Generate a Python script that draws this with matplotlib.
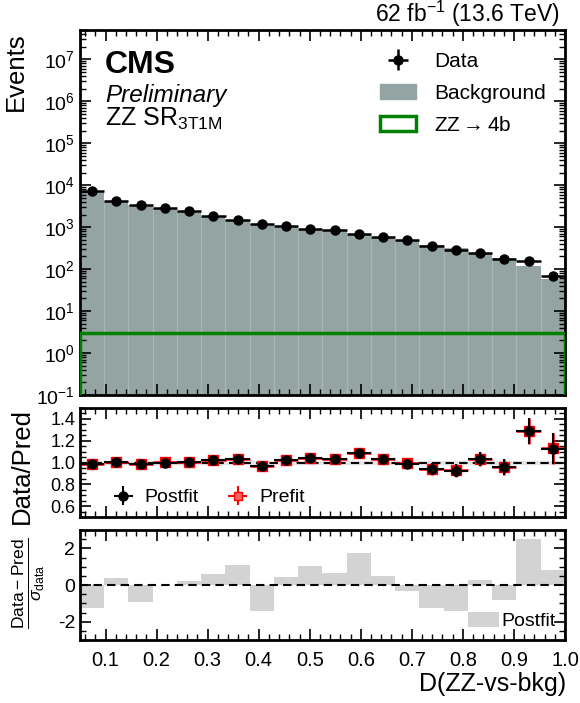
import numpy as np
import matplotlib
matplotlib.use("Agg")
import matplotlib.pyplot as plt
from matplotlib.ticker import MultipleLocator, LogLocator, NullFormatter, FixedLocator, LogFormatterSciNotation
from matplotlib.patches import Patch

plt.rcParams['font.family'] = ['Liberation Sans', 'DejaVu Sans']
plt.rcParams['mathtext.fontset'] = 'custom'
plt.rcParams['mathtext.rm'] = 'Liberation Sans'
plt.rcParams['mathtext.it'] = 'Liberation Sans:italic'
plt.rcParams['mathtext.bf'] = 'Liberation Sans:bold'
plt.rcParams['axes.unicode_minus'] = False

# ---- data ----
bin_edges = [0.05, 0.0975, 0.145, 0.1925, 0.24, 0.2875, 0.335, 0.3825, 0.43, 0.4775,
             0.525, 0.5725, 0.62, 0.6675, 0.715, 0.7625, 0.81, 0.8575, 0.905, 0.9525, 1.0]
data_counts = [7200, 4160, 3410, 2900, 2400, 1800, 1500, 1160, 1056, 880,
               834, 695, 578, 482, 347, 290, 246, 177, 155, 67]
ratio_postfit = [0.988, 1.006, 0.988, 1.000, 1.003, 1.020, 1.034, 0.970, 1.020, 1.040,
                 1.034, 1.084, 1.028, 0.990, 0.940, 0.925, 1.030, 0.957, 1.290, 1.127]
ratio_prefit = [0.990, 1.008, 0.990, 1.002, 1.005, 1.022, 1.036, 0.972, 1.022, 1.042,
                1.036, 1.086, 1.030, 0.992, 0.942, 0.927, 1.032, 0.959, 1.292, 1.129]
ratio_err = [0.012, 0.016, 0.017, 0.019, 0.020, 0.024, 0.026, 0.029, 0.031, 0.034,
             0.035, 0.038, 0.042, 0.046, 0.054, 0.059, 0.064, 0.075, 0.12, 0.14]
pulls = [-1.28, 0.37, -0.93, 0.02, 0.20, 0.61, 1.07, -1.43, 0.43, 1.02,
         0.65, 1.76, 0.48, -0.35, -1.24, -1.43, 0.28, -0.81, 2.52, 0.83]
signal = [3.0] * 20
log_ticks = [1e-1, 1e0, 1e1, 1e2, 1e3, 1e4, 1e5, 1e6, 1e7]

edges = np.array(bin_edges)
centers = 0.5 * (edges[1:] + edges[:-1])
halfw = 0.5 * (edges[1:] - edges[:-1])
data = np.array(data_counts, float)
rpost = np.array(ratio_postfit)
rpre = np.array(ratio_prefit)
bkg = data / rpost

W, H = 580, 703
fig = plt.figure(figsize=(W / 100, H / 100), dpi=100)

def fax(l, t, r, b):
    return fig.add_axes([l / W, 1 - b / H, (r - l) / W, (b - t) / H])

ax1 = fax(80, 30, 565, 395)
ax2 = fax(80, 408, 565, 517)
ax3 = fax(80, 530, 565, 640)

bkg_color = '#94a4a2'
FS = 14

# ---- main panel ----
ax1.stairs(bkg, edges, fill=True, color=bkg_color, baseline=1e-5, zorder=1)
ax1.vlines(edges[1:-1], 1e-5, np.minimum(bkg[:-1], bkg[1:]), color='#aab6b4',
           lw=0.9, zorder=1.5)
ax1.stairs(signal, edges, color='green', lw=2.5, baseline=1e-5, zorder=3)
ax1.errorbar(centers, data, xerr=halfw, yerr=np.sqrt(data), fmt='o', color='black',
             ms=6.5, lw=1.8, capsize=0, zorder=4)
ax1.set_yscale('log')
ax1.set_ylim(0.1, 5e7)
ax1.set_xlim(0.05, 1.0)
ax1.yaxis.set_major_locator(FixedLocator(log_ticks))
ax1.yaxis.set_major_formatter(LogFormatterSciNotation())
ax1.yaxis.set_minor_locator(LogLocator(base=10, subs=np.arange(2, 10), numticks=20))
ax1.yaxis.set_minor_formatter(NullFormatter())
ax1.tick_params(labelbottom=False)

h_data = ax1.errorbar([], [], xerr=[], yerr=[], fmt='o', color='black', ms=6.5, lw=1.8)
h_bkg = Patch(facecolor=bkg_color, edgecolor=bkg_color)
h_sig = Patch(facecolor='white', edgecolor='green', lw=2.5)
ax1.legend([h_data, h_bkg, h_sig], ['Data', 'Background', r'ZZ$\rightarrow$4b'],
           loc='upper left', bbox_to_anchor=(0.618, 0.94), frameon=False,
           fontsize=15, handlelength=1.75, handletextpad=0.85, labelspacing=0.62,
           borderpad=0, borderaxespad=0)

ax1.text(0.052, 0.945, 'CMS', transform=ax1.transAxes, fontsize=23, fontweight='bold',
         va='top', ha='left')
ax1.text(0.052, 0.82, 'Preliminary', transform=ax1.transAxes, fontsize=17.5,
         style='italic', va='center', ha='left')
ax1.text(0.052, 0.756, r'ZZ SR$_{\mathrm{3T1M}}$', transform=ax1.transAxes, fontsize=18,
         va='center', ha='left')
fig.text(560 / W, 1 - 22 / H, r'62 fb$^{-1}$ (13.6 TeV)', fontsize=16.5,
         ha='right', va='baseline')

# ---- ratio panel ----
ax2.axhspan(0.99, 1.01, color='#e6e6e6', zorder=0)
ax2.axhline(1.0, color='black', ls='--', lw=1.5, dashes=(4, 2.5), zorder=1)
ax2.errorbar(centers, rpre, xerr=halfw, yerr=ratio_err, fmt='s', color='red',
             mfc='red', ms=7, lw=1.8, capsize=0, zorder=2)
ax2.errorbar(centers, rpost, xerr=halfw, yerr=ratio_err, fmt='o', color='black',
             ms=6.5, lw=1.5, capsize=0, zorder=3)
ax2.set_xlim(0.05, 1.0)
ax2.set_ylim(0.5, 1.5)
ax2.yaxis.set_major_locator(FixedLocator([0.6, 0.8, 1.0, 1.2, 1.4]))
ax2.yaxis.set_minor_locator(MultipleLocator(0.05))
ax2.yaxis.set_major_formatter(matplotlib.ticker.FormatStrFormatter('%.1f'))
ax2.tick_params(labelbottom=False)
hp = ax2.errorbar([], [], xerr=[], yerr=[], fmt='o', color='black', ms=6.5, lw=1.5)
hq = ax2.errorbar([], [], xerr=[], yerr=[], fmt='s', color='red', ms=5.5, lw=1.5,
                  mfc='#ff6060')
ax2.legend([hp, hq], ['Postfit', 'Prefit'], loc='lower left', ncol=2, frameon=False,
           fontsize=FS, handlelength=1.6, handletextpad=0.3, columnspacing=1.2,
           borderaxespad=0.15, bbox_to_anchor=(0.035, 0.0))

# ---- pull panel ----
ax3.stairs(pulls, edges, fill=True, color='#d3d3d3', baseline=0, zorder=1)
ax3.axhline(0.0, color='black', ls='--', lw=1.5, dashes=(4, 2.5), zorder=2)
ax3.set_xlim(0.05, 1.0)
ax3.set_ylim(-3, 3)
ax3.yaxis.set_major_locator(FixedLocator([-2, 0, 2]))
ax3.yaxis.set_minor_locator(MultipleLocator(0.5))
ax3.legend([Patch(facecolor='#d3d3d3')], ['Postfit'], loc='lower right', frameon=False,
           fontsize=FS, handlelength=1.6, handleheight=0.8, handletextpad=0.1,
           borderaxespad=0.5, borderpad=0.0)

for ax in (ax1, ax2, ax3):
    ax.xaxis.set_major_locator(MultipleLocator(0.1))
    ax.xaxis.set_minor_locator(MultipleLocator(0.02))
    ax.tick_params(which='both', direction='in', top=True, right=True, labelsize=FS)
    ax.tick_params(which='major', length=8, width=1.2)
    ax.tick_params(which='minor', length=4, width=1.0)
    for s in ax.spines.values():
        s.set_linewidth(2)
ax2.tick_params(axis='y', labelsize=13)
ax3.xaxis.set_major_formatter(matplotlib.ticker.FormatStrFormatter('%.1f'))
ax3.tick_params(axis='x', pad=8, labelsize=14.5)

fig.text(16 / W, 1 - 32 / H, 'Events', rotation=90, ha='center', va='top', fontsize=18.5)
fig.text(22 / W, 1 - 466 / H, 'Data/Pred', rotation=90, ha='center', va='center',
         fontsize=18.5)
fig.text(28 / W, 1 - 583 / H, r'$\frac{\mathrm{Data-Pred}}{\sigma_{\mathrm{data}}}$',
         rotation=90, ha='center', va='center', fontsize=18)
fig.text(566 / W, 1 - 684 / H, 'D(ZZ-vs-bkg)', ha='right', va='center', fontsize=18)

fig.savefig('out.png', dpi=100)
